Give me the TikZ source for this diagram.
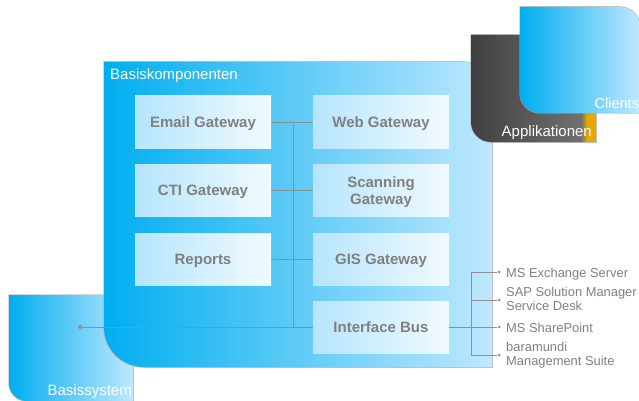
\documentclass[tikz,border=0pt]{standalone}
\usepackage{fontspec}
\setmainfont{Liberation Sans}
\definecolor{cyanL}{HTML}{00AEEF}
\definecolor{cyanR}{HTML}{BFE8FF}
\definecolor{boxL}{HTML}{B5E5FC}
\definecolor{boxR}{HTML}{F2FAFF}
\definecolor{wire}{HTML}{8F8F8F}
\definecolor{txt}{HTML}{808080}
\definecolor{edge}{HTML}{A8A8A8}
\definecolor{appL}{HTML}{404040}
\definecolor{appR}{HTML}{707070}
\definecolor{appO}{HTML}{E8A800}
\pgfdeclarehorizontalshading{appshade}{100bp}{color(0bp)=(appL); color(25bp)=(appL); color(69bp)=(appR); color(71.5bp)=(appO); color(100bp)=(appO)}
\newcommand{\lowered}[1]{\raisebox{-6pt}[0pt][0pt]{\begin{tabular}{@{}c@{}}#1\end{tabular}}}
\tikzset{
  panel/.style={left color=cyanL,right color=cyanR,draw=none},
  halo/.style={fill=edge,draw=edge,line width=1.5pt,opacity=.7},
  gwbox/.style={minimum width=136pt,minimum height=52pt,inner sep=0pt,left color=boxL,right color=boxR,draw=none,
     text=txt,font=\bfseries\fontsize{15}{17}\selectfont},
  wireline/.style={draw=wire,line width=1pt},
  dot/.style={circle,fill=wire,inner sep=0pt,minimum size=4pt},
  sidelabel/.style={text=txt,inner sep=0pt,font=\fontsize{12.9}{14}\selectfont,align=left},
  paneltitle/.style={inner sep=0pt,text=white,font=\fontsize{15}{17}\selectfont}
}
\newcommand{\panelA}{(9,-295) -- (133,-295) -- (133,-401) -- (27,-401) arc[start angle=270,end angle=180,radius=18] -- cycle}
\newcommand{\panelB}{(471,-35) -- (596,-35) -- (596,-142) -- (491,-142) arc[start angle=270,end angle=180,radius=20] -- cycle}
\newcommand{\panelC}{(520,-7) -- (620,-7) arc[start angle=90,end angle=0,radius=20] -- (640,-113) -- (540,-113) arc[start angle=270,end angle=180,radius=20] -- cycle}
\newcommand{\panelD}{(104,-62) -- (464,-62) arc[start angle=90,end angle=0,radius=28] -- (492,-367) -- (144,-367) arc[start angle=270,end angle=180,radius=40] -- cycle}
\begin{document}
\begin{tikzpicture}[x=1pt,y=1pt]
\useasboundingbox (0,0) rectangle (639,-401);
\clip (0,0) rectangle (639,-401);
% Basissystem
\path[halo] \panelA;
\shade[panel] \panelA;
% Basiskomponenten
\path[halo] \panelD;
\shade[panel] \panelD;
% Applikationen
\path[halo] \panelB;
\shade[shading=appshade] \panelB;
% Clients
\path[halo] \panelC;
\shade[panel] \panelC;
\node[paneltitle,anchor=base west] (tA) at (110,-79.3) {Basiskomponenten};
\node[paneltitle,anchor=base east] (tB) at (132,-395) {Basissystem};
\node[paneltitle,anchor=base east] (tC) at (592,-136.5) {Applikationen};
\node[paneltitle,anchor=base west,font=\fontsize{14.5}{17}\selectfont] (tD) at (594.5,-108.5) {Clients};
% boxes
\node[gwbox] (email) at (203,-122) {\lowered{Email Gateway}};
\node[gwbox] (cti) at (203,-190) {\lowered{CTI Gateway}};
\node[gwbox] (reports) at (203,-259) {\lowered{Reports}};
\node[gwbox] (web) at (381,-122) {\lowered{Web Gateway}};
\node[gwbox] (scan) at (381,-190) {\lowered{Scanning\\Gateway}};
\node[gwbox] (gis) at (381,-259) {\lowered{GIS Gateway}};
\node[gwbox] (bus) at (381,-327) {\lowered{Interface Bus}};
% hubs
\coordinate (hubT) at (293,-122);
\coordinate (hubB) at (293,-327);
\node[dot] (basis) at (80,-327) {};
\draw[wireline] (email) -- (web);
\draw[wireline] (cti) -- (scan);
\draw[wireline] (reports) -- (gis);
\draw[wireline] (basis) -- (bus);
\draw[wireline] (hubT) -- (hubB);
% right side
\node[sidelabel,anchor=base west] (ex) at (506,-277.7) {MS Exchange Server};
\node[sidelabel,anchor=west] (sap) at (506,-299) {SAP Solution Manager\\Service Desk};
\node[sidelabel,anchor=base west] (sp) at (506,-332) {MS SharePoint};
\node[sidelabel,anchor=west] (bar) at (506,-355.4) {baramundi\\Management Suite};
\node[dot,minimum size=3pt] (d1) at (499,-272) {};
\node[dot,minimum size=3pt] (d2) at (499,-300) {};
\node[dot,minimum size=3pt] (d3) at (499,-327) {};
\node[dot,minimum size=3pt] (d4) at (499,-355) {};
\coordinate (rT) at (471,-272);
\coordinate (rU) at (471,-300);
\coordinate (rL) at (471,-355);
\draw[wireline] (bus) -- (d3);
\draw[wireline] (rT) -- (d1);
\draw[wireline] (rU) -- (d2);
\draw[wireline] (rL) -- (d4);
\draw[wireline] (rT) -- (rL);
\end{tikzpicture}
\end{document}
